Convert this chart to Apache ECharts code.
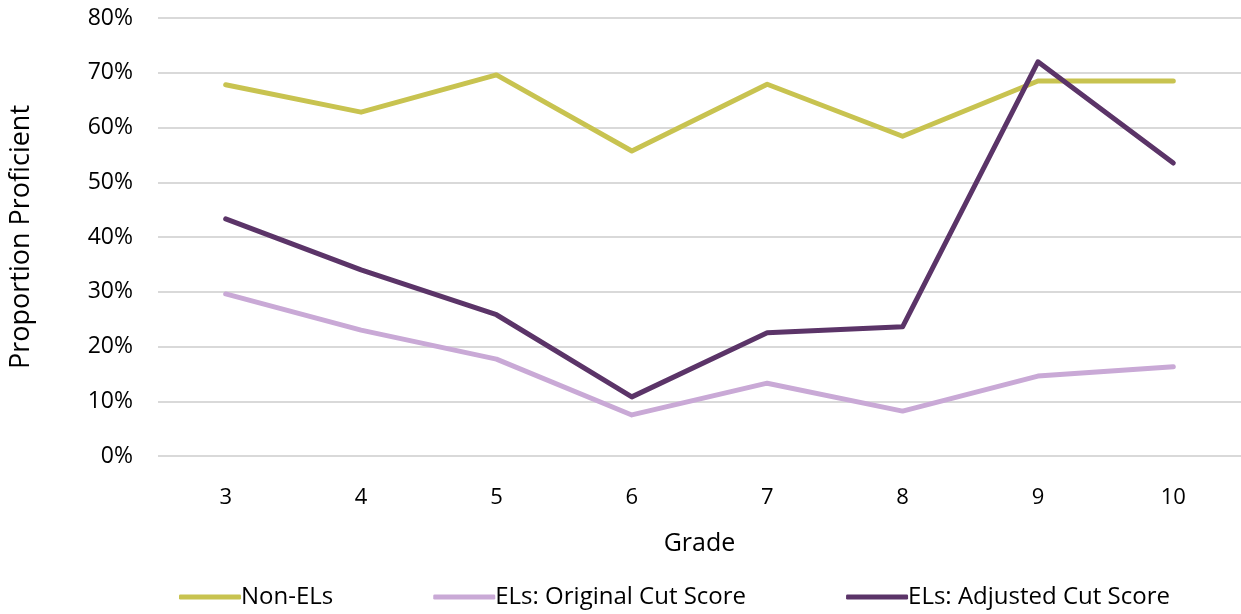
<!DOCTYPE html>
<html><head><meta charset="utf-8">
<script src="https://cdn.jsdelivr.net/npm/echarts@6/dist/echarts.min.js"></script>
<style>html,body{margin:0;padding:0;background:#fff}#c{width:1241px;height:614px}</style>
</head><body><div id="c"></div>
<script>
var grades = ['3','4','5','6','7','8','9','10'];
var nonEL = [67.8, 62.8, 69.6, 55.7, 67.9, 58.4, 68.5, 68.5];
var elOriginal = [29.6, 23.0, 17.7, 7.5, 13.3, 8.2, 14.6, 16.3];
var elAdjusted = [43.3, 34.0, 25.8, 10.8, 22.5, 23.6, 72.0, 53.5];
var yTicks = [0, 10, 20, 30, 40, 50, 60, 70, 80];

var font = '"Open Sans", "Noto Sans", sans-serif';
var chart = echarts.init(document.getElementById('c'));
function s(name, data, color) {
  return {name: name, type: 'line', data: data, symbol: 'none', smooth: false,
    lineStyle: {width: 5, color: color, cap: 'round', join: 'round'}, itemStyle: {color: color}};
}
chart.setOption({
  animation: false,
  textStyle: {fontFamily: font},
  grid: {left: 153, right: -5, top: 18, bottom: 158, containLabel: false},
  xAxis: {type: 'category', data: grades, boundaryGap: true,
    name: 'Grade', nameLocation: 'middle', nameGap: 75,
    nameTextStyle: {fontSize: 25, color: '#000', fontFamily: font},
    axisLine: {show: false}, axisTick: {show: false},
    axisLabel: {fontSize: 22, color: '#000', margin: 31, fontFamily: font}},
  yAxis: {type: 'value', min: yTicks[0], max: yTicks[yTicks.length-1], interval: 10,
    name: 'Proportion Proficient', nameLocation: 'middle', nameGap: 123,
    nameTextStyle: {fontSize: 27, color: '#000', fontFamily: font},
    axisLine: {show: false}, axisTick: {show: false},
    splitLine: {lineStyle: {color: '#d9d9d9', width: 2}},
    axisLabel: {fontSize: 23, color: '#000', margin: 25, fontFamily: font,
      formatter: function(v){return v + '%';}}},
  legend: {bottom: 0, left: 174, itemWidth: 62, itemHeight: 5, itemGap: 100,
    icon: 'roundRect',
    textStyle: {fontSize: 24, color: '#000', padding: [0,0,0,-5], fontFamily: font},
    data: ['Non-ELs', 'ELs: Original Cut Score', 'ELs: Adjusted Cut Score']},
  series: [
    s('Non-ELs', nonEL, '#C8C350'),
    s('ELs: Original Cut Score', elOriginal, '#C9A9D6'),
    s('ELs: Adjusted Cut Score', elAdjusted, '#5B3468')
  ]
});
</script></body></html>
